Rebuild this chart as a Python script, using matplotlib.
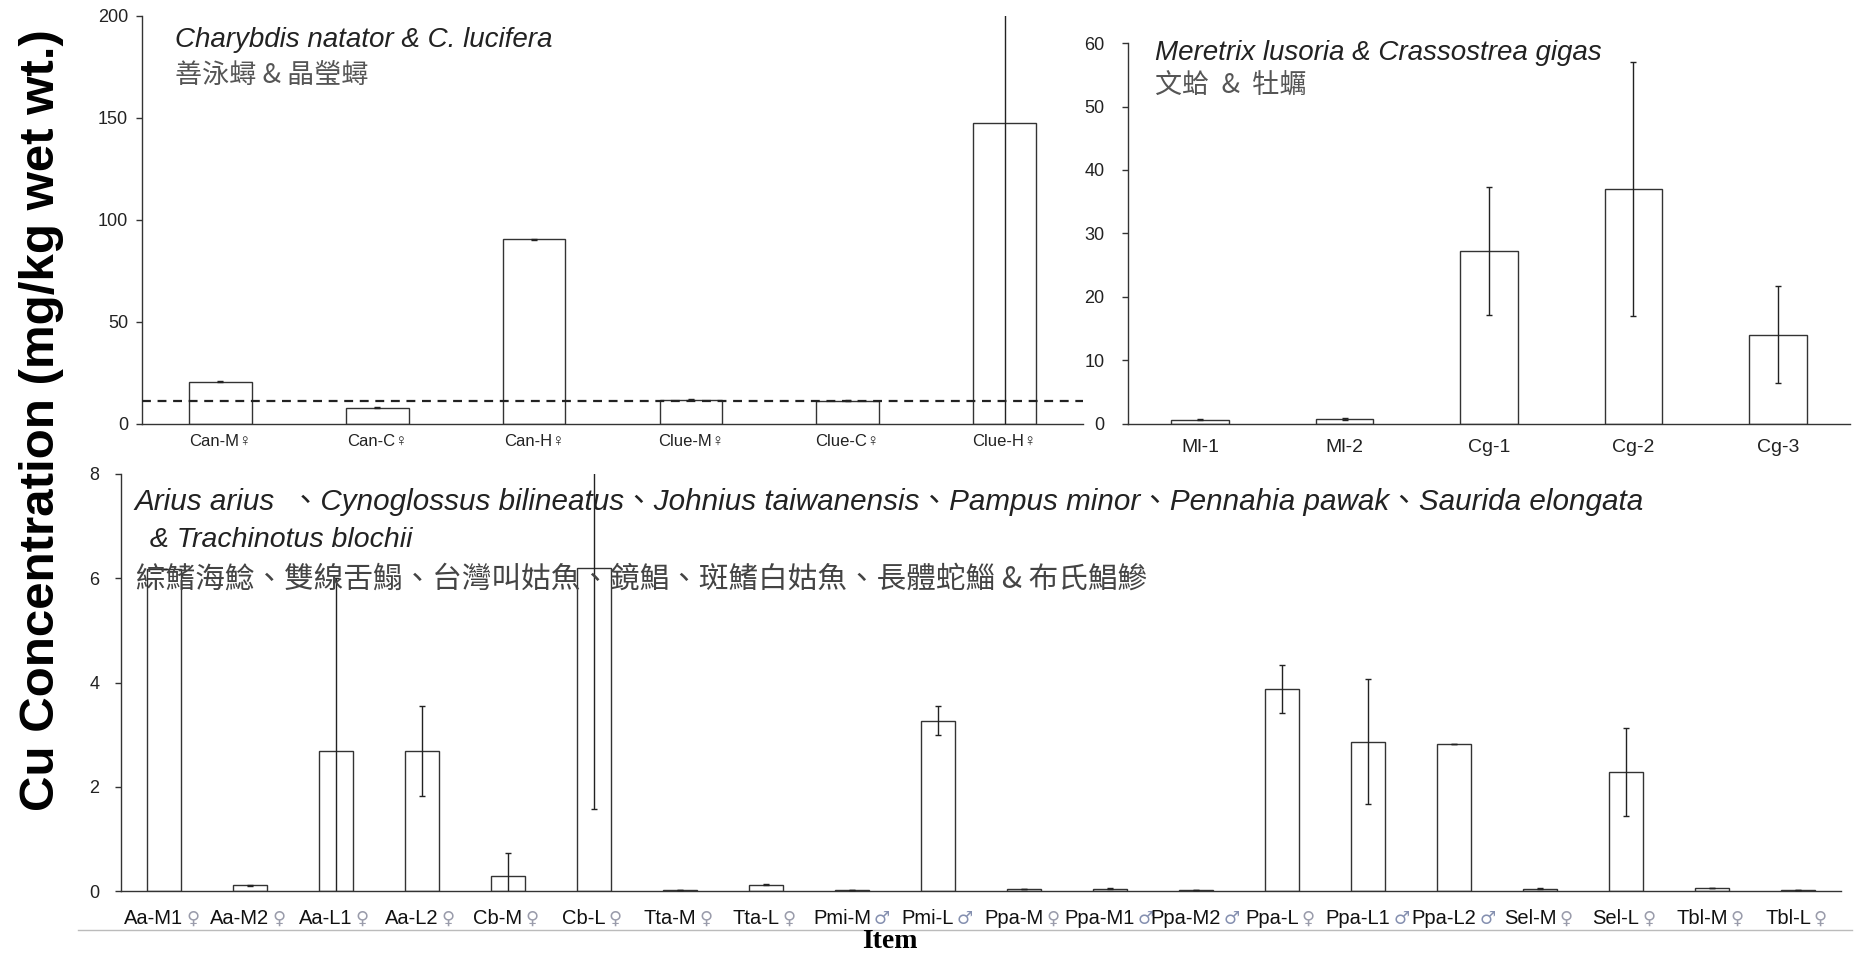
import matplotlib
matplotlib.use('Agg')
import matplotlib.pyplot as plt
import matplotlib.transforms as mtransforms
from matplotlib import font_manager

W, H = 1856, 956

crab_labels = ['Can-M♀', 'Can-C♀', 'Can-H♀', 'Clue-M♀', 'Clue-C♀', 'Clue-H♀']
crab_vals = [20.7, 8.0, 90.6, 12.0, 11.4, 147.6]
crab_err = [0.3, 0.3, 0.3, 0.4, 0.3, 155.0]
crab_limit = 11.2

shell_labels = ['Ml-1', 'Ml-2', 'Cg-1', 'Cg-2', 'Cg-3']
shell_vals = [0.68, 0.79, 27.3, 37.05, 14.05]
shell_err = [0.1, 0.1, 10.1, 20.0, 7.65]

fish_labels = ['Aa-M1', 'Aa-M2', 'Aa-L1', 'Aa-L2', 'Cb-M', 'Cb-L', 'Tta-M', 'Tta-L',
               'Pmi-M', 'Pmi-L', 'Ppa-M', 'Ppa-M1', 'Ppa-M2', 'Ppa-L', 'Ppa-L1',
               'Ppa-L2', 'Sel-M', 'Sel-L', 'Tbl-M', 'Tbl-L']
fish_sex = ['♀', '♀', '♀', '♀', '♀', '♀', '♀', '♀', '♂', '♂',
            '♀', '♂', '♂', '♀', '♂', '♂', '♀', '♀', '♀', '♀']
fish_vals = [6.18, 0.11, 2.68, 2.68, 0.28, 6.2, 0.02, 0.12, 0.02, 3.27,
             0.04, 0.04, 0.015, 3.88, 2.86, 2.82, 0.045, 2.28, 0.06, 0.02]
fish_err = [0.0, 0.01, 3.32, 0.86, 0.45, 4.63, 0.0, 0.01, 0.0, 0.28,
            0.0, 0.01, 0.0, 0.46, 1.2, 0.0, 0.01, 0.85, 0.0, 0.0]

names = {f.name for f in font_manager.fontManager.ttflist}
NARROW = 'Liberation Sans Narrow' if 'Liberation Sans Narrow' in names else 'Liberation Sans'
SANS = 'Liberation Sans'
CJK = 'Noto Sans CJK TC'

EDGE = '#333333'


def px_axes(fig, left, top, right, bottom):
    return fig.add_axes([left / W, 1 - bottom / H, (right - left) / W, (bottom - top) / H])


def fig_text(fig, x, y, s, **kw):
    fig.text(x / W, 1 - y / H, s, va='center', ha='left', **kw)


def bar_panel(ax, vals, errs, ymax, yticks, ypad):
    n = len(vals)
    x = list(range(n))
    ax.bar(x, vals, width=0.4, color='white', edgecolor=EDGE, linewidth=1.0, zorder=2)
    ax.errorbar(x, vals, yerr=errs, fmt='none', ecolor='#222222', elinewidth=1.0,
                capsize=2.5, capthick=1.0, zorder=3)
    ax.set_xlim(-0.5, n - 0.5)
    ax.set_ylim(0, ymax)
    ax.set_yticks(yticks)
    for s in ['top', 'right']:
        ax.spines[s].set_visible(False)
    for s in ['left', 'bottom']:
        ax.spines[s].set_color(EDGE)
        ax.spines[s].set_linewidth(1.0)
    ax.tick_params(axis='y', direction='out', length=4, width=1, color=EDGE, pad=ypad,
                   labelsize=13, labelcolor='#222222')
    ax.tick_params(axis='x', length=0)
    for lab in ax.get_yticklabels():
        lab.set_fontfamily(NARROW)
    ax.set_xticks(x)


fig = plt.figure(figsize=(W / 100, H / 100), dpi=100)

# crabs
ax1 = px_axes(fig, 142, 16, 1083, 424)
bar_panel(ax1, crab_vals, crab_err, 200, [0, 50, 100, 150, 200], 6)
ax1.axhline(crab_limit, color='#222222', linestyle=(0, (4, 3)), linewidth=1.6, zorder=4)
ax1.set_xticklabels(crab_labels, family=[NARROW, 'DejaVu Sans'], fontsize=12, color='#222222')
ax1.tick_params(axis='x', pad=7)

# clams and oysters
ax2 = px_axes(fig, 1128, 43, 1850, 424)
bar_panel(ax2, shell_vals, shell_err, 60, [0, 10, 20, 30, 40, 50, 60], 13)
ax2.set_xticklabels(shell_labels, family=NARROW, fontsize=14, color='#222222')
ax2.tick_params(axis='x', pad=11)

# fishes
ax3 = px_axes(fig, 121, 474, 1841, 891)
bar_panel(ax3, fish_vals, fish_err, 8, [0, 2, 4, 6, 8], 11.5)
ax3.set_xticklabels([])
offset = mtransforms.ScaledTranslation(-0.10, -0.27, fig.dpi_scale_trans)
for i, (name, sex) in enumerate(zip(fish_labels, fish_sex)):
    t = ax3.text(i, 0, name, transform=ax3.get_xaxis_transform() + offset,
                 ha='center', va='center', fontsize=14.5, family=SANS, color='#111111')
    ax3.annotate(sex, xy=(1, 0.45), xycoords=t, xytext=(2, 0), textcoords='offset points',
                 ha='left', va='center', fontsize=13, family='DejaVu Sans',
                 color='#9a9cab' if sex == '♀' else '#8590b0')

# panel titles
fig_text(fig, 175, 40, 'Charybdis natator & C. lucifera', fontsize=20, style='italic',
         family=[SANS, CJK], color='#222222')
fig_text(fig, 175, 75, '善泳蟳 & 晶瑩蟳', fontsize=19.5, family=[CJK, SANS], color='#555555')
fig_text(fig, 1155, 53, 'Meretrix lusoria & Crassostrea gigas', fontsize=20, style='italic',
         family=[SANS, CJK], color='#222222')
fig_text(fig, 1155, 86, '文蛤  &  牡蠣', fontsize=19.5, family=[CJK, SANS], color='#555555')
fig_text(fig, 134, 502,
         'Arius arius  、Cynoglossus bilineatus、Johnius taiwanensis、Pampus minor、'
         'Pennahia pawak、Saurida elongata',
         fontsize=21.3, style='italic', family=[SANS, CJK], color='#222222')
fig_text(fig, 142, 540, ' & Trachinotus blochii', fontsize=20.5, style='italic',
         family=[SANS, CJK], color='#222222')
fig_text(fig, 136, 579, '綜鰭海鯰、雙線舌鰨、台灣叫姑魚、鏡鯧、斑鰭白姑魚、長體蛇鯔 & 布氏鯧鰺',
         fontsize=21.3, family=[CJK, SANS], color='#444444')

# axis titles and bottom rule
fig.text(42 / W, 1 - 420 / H, 'Cu Concentration (mg/kg wet wt.)', rotation=90,
         ha='center', va='center', fontsize=35.5, fontweight='bold', family=SANS)
fig.text(890 / W, 1 - 941 / H, 'Item', ha='center', va='center', fontsize=20,
         fontweight='bold', family='Liberation Serif')
fig.add_artist(plt.Line2D([78 / W, 1852 / W], [1 - 930 / H, 1 - 930 / H],
                          transform=fig.transFigure, color='#bbbbbb', linewidth=1.0))

fig.savefig('out.png', dpi=100)
